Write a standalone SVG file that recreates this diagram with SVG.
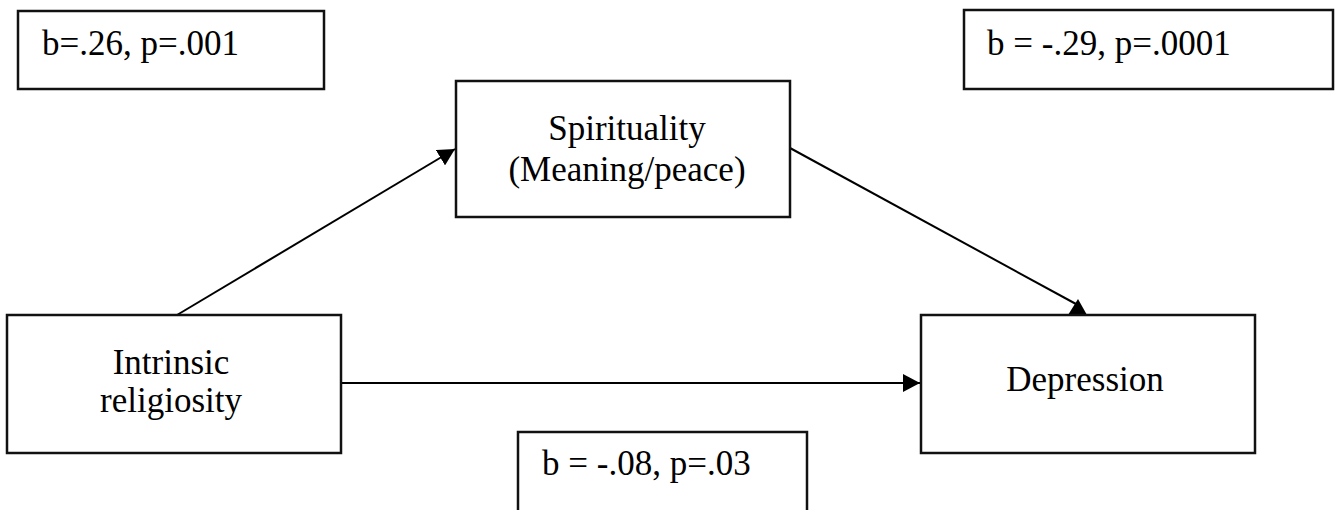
<svg xmlns="http://www.w3.org/2000/svg" width="1342" height="510" viewBox="0 0 1342 510">
<style>
.box{fill:#fff;stroke:#111;stroke-width:2.5}
.t{font-family:"Liberation Serif","Times New Roman",serif;font-size:35px;fill:#000}
.c{text-anchor:middle}
.ln{stroke:#000;stroke-width:2;fill:none}
</style>
<defs>
<marker id="ah" markerUnits="userSpaceOnUse" markerWidth="18" markerHeight="18" refX="17" refY="9" orient="auto" viewBox="0 0 18 18">
<path d="M0,0 L17,9 L0,18 z" fill="#000"/>
</marker>
</defs>
<g id="connectors">
<line class="ln" x1="177" y1="315" x2="455" y2="149" marker-end="url(#ah)"/>
<line class="ln" x1="341" y1="383" x2="920" y2="383" marker-end="url(#ah)"/>
<line class="ln" x1="790" y1="148" x2="1076" y2="304"/>
<polygon points="1068,315 1078,299 1087,315" fill="#000"/>
</g>
<g id="label-a">
<rect class="box" x="18" y="11" width="306" height="78"/>
<text class="t" x="42" y="55">b=.26, p=.001</text>
</g>
<g id="label-b">
<rect class="box" x="964" y="10" width="369" height="79"/>
<text class="t" x="987" y="55">b = -.29, p=.0001</text>
</g>
<g id="spirituality">
<rect class="box" x="456" y="81" width="334" height="136"/>
<text class="t c" x="627" y="140">Spirituality</text>
<text class="t c" x="627" y="181">(Meaning/peace)</text>
</g>
<g id="intrinsic">
<rect class="box" x="7" y="315" width="334" height="138"/>
<text class="t c" x="171" y="374">Intrinsic</text>
<text class="t c" x="171" y="412">religiosity</text>
</g>
<g id="depression">
<rect class="box" x="921" y="315" width="334" height="138"/>
<text class="t c" x="1085" y="391">Depression</text>
</g>
<g id="label-c">
<rect class="box" x="518" y="432" width="289" height="90"/>
<text class="t" x="542" y="475">b = -.08, p=.03</text>
</g>
</svg>
